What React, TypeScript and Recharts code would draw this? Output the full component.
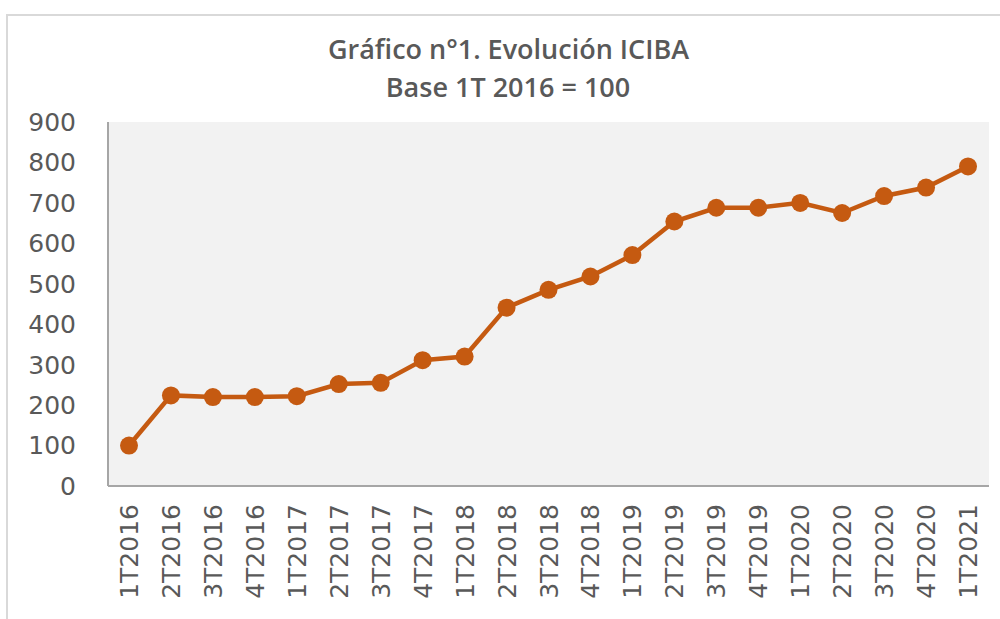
import React from "react";
import { LineChart, Line, XAxis, YAxis, CartesianGrid } from "recharts";

const categories = [
  "1T2016", "2T2016", "3T2016", "4T2016",
  "1T2017", "2T2017", "3T2017", "4T2017",
  "1T2018", "2T2018", "3T2018", "4T2018",
  "1T2019", "2T2019", "3T2019", "4T2019",
  "1T2020", "2T2020", "3T2020", "4T2020",
  "1T2021",
];
const iciba = [
  100, 224, 220, 220, 222, 252, 255, 311, 320, 441, 485, 518,
  571, 654, 688, 688, 700, 675, 717, 738, 790,
];
const yTicks = [0, 100, 200, 300, 400, 500, 600, 700, 800, 900];
const titleLines = ["Gráfico n°1. Evolución ICIBA", "Base 1T 2016 = 100"];

const data = categories.map((c, i) => ({ name: c, value: iciba[i] }));

const TEXT = "#595959";
const LINE = "#c55a11";
const AXIS = "#a6a6a6";

const XTick = (props: any) => {
  const { x, y, payload } = props;
  return (
    <g transform={`translate(${x},${y + 10})`}>
      <text
        transform="rotate(-90)"
        textAnchor="end"
        dy="0.36em"
        fill={TEXT}
        fontSize={25}
        fontFamily="DejaVu Sans"
      >
        {payload.value}
      </text>
    </g>
  );
};

export default function App() {
  return (
    <div
      style={{
        position: "fixed",
        left: 0,
        top: 0,
        width: 1000,
        height: 619,
        background: "#ffffff",
        overflow: "hidden",
      }}
    >
      <div
        style={{
          position: "absolute",
          left: 6,
          top: 14,
          width: 1200,
          height: 800,
          borderLeft: "2px solid #d9d9d9",
          borderTop: "2px solid #d9d9d9",
        }}
      />
      <svg
        width={1000}
        height={110}
        style={{ position: "absolute", left: 0, top: 0 }}
      >
        <text
          x={508.5}
          y={59}
          textAnchor="middle"
          fontFamily="Open Sans"
          fontWeight={600}
          fontSize={27}
          fill={TEXT}
        >
          {titleLines[0]}
        </text>
        <text
          x={508}
          y={97}
          textAnchor="middle"
          fontFamily="Open Sans"
          fontWeight={600}
          fontSize={27}
          fill={TEXT}
        >
          {titleLines[1]}
        </text>
      </svg>
      <div style={{ position: "absolute", left: 0, top: 0 }}>
        <LineChart
          width={1000}
          height={619}
          data={data}
          margin={{ top: 122, right: 11, bottom: 0, left: 0 }}
        >
          <CartesianGrid
            fill="#f2f2f2"
            horizontal={false}
            vertical={false}
            stroke="none"
          />
          <XAxis
            dataKey="name"
            interval={0}
            height={133}
            tickLine={false}
            axisLine={{ stroke: AXIS, strokeWidth: 2 }}
            padding={{ left: 21, right: 21 }}
            tick={<XTick />}
          />
          <YAxis
            width={108}
            domain={[0, 900]}
            ticks={yTicks}
            interval={0}
            tickLine={false}
            tickSize={0}
            tickMargin={32}
            axisLine={{ stroke: AXIS, strokeWidth: 2 }}
            tick={{ fill: TEXT, fontSize: 25, fontFamily: "DejaVu Sans" }}
          />
          <Line
            type="linear"
            dataKey="value"
            stroke={LINE}
            strokeWidth={4.5}
            dot={{ r: 9, fill: LINE, stroke: "none" }}
            activeDot={false}
            isAnimationActive={false}
          />
        </LineChart>
      </div>
    </div>
  );
}
